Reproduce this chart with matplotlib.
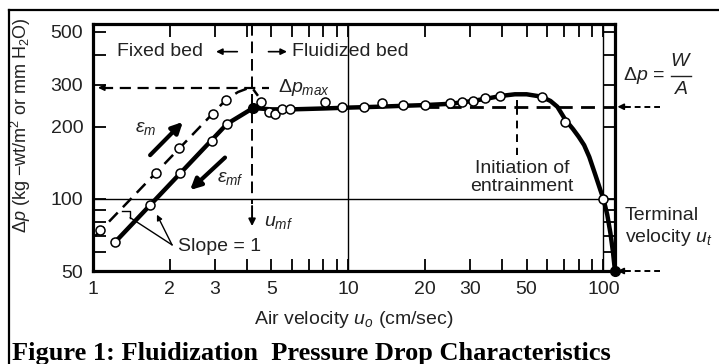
import matplotlib
matplotlib.use('Agg')
import matplotlib.pyplot as plt
from matplotlib.lines import Line2D

plt.rcParams['font.family'] = ['Liberation Sans', 'DejaVu Sans']
plt.rcParams['mathtext.fontset'] = 'custom'
plt.rcParams['mathtext.rm'] = 'Liberation Sans'
plt.rcParams['mathtext.it'] = 'Liberation Sans:italic'
plt.rcParams['mathtext.bf'] = 'Liberation Sans:bold'

# ---------------- data ----------------
# fixed bed, increasing velocity (loose packing, eps_m) - dashed
fixed_up_u = [1.065, 1.77, 2.17, 2.95, 3.32]
fixed_up_dp = [74, 128.6, 163, 226, 260]
fixed_up_line_u = [1.02, 3.32, 3.7, 4.0, 4.2, 4.43]
fixed_up_line_dp = [70, 260, 280, 289, 292, 270]
# fixed bed, decreasing velocity (eps_mf) - solid
fixed_down_u = [1.22, 1.67, 2.19, 2.93, 3.35]
fixed_down_dp = [66, 94.5, 128, 175, 206]
fixed_down_line_u = [1.22, 3.35, 4.24]
fixed_down_line_dp = [66, 206, 240]
knee_u = [4.24]
knee_dp = [240]
# fluidized bed measurements
fluid_u = [4.56, 4.90, 5.17, 5.51, 5.92, 8.12, 9.47, 11.5, 13.6, 16.4, 20.0,
           25.1, 28.0, 30.9, 34.5, 39.5, 57.6, 71.0, 100.0]
fluid_dp = [255, 231, 227, 238, 238, 255, 243, 243, 252, 248, 248,
            252, 255, 257, 265, 270, 268, 210, 100]
# smooth fitted curve through fluidized region
curve_u = [4.24, 5, 6, 8, 10, 13, 16, 20, 25, 30, 35, 40, 45, 50, 57, 62, 66,
           71, 76, 80, 84, 88, 93, 97, 100, 103.5, 106.5, 109, 111]
curve_dp = [240, 237, 237, 239, 241, 243, 245, 247, 250, 256, 263, 270, 274,
            274, 268, 257, 243, 214, 196, 182, 168, 150, 126, 110, 100, 86,
            72, 60, 50]
terminal_u = [111]
terminal_dp = [50]
dp_max = 292
dp_WA = 243
u_mf = 4.2
u_entrain = 45.9

x_ticks = [1, 2, 3, 4, 5, 6, 7, 8, 9, 10, 20, 30, 40, 50, 60, 70, 80, 90, 100]
x_labels = ['1', '2', '3', '', '5', '', '', '', '', '10', '20', '30', '', '50',
            '', '', '', '', '100']
y_ticks = [50, 60, 70, 80, 90, 100, 200, 300, 400, 500]
y_labels = ['50', '', '', '', '', '100', '200', '300', '', '500']

TXT = '#222222'
FS = 14
W, H = 719, 364


def fx(px):
    return px / W


def fy(py):
    return 1 - py / H


fig = plt.figure(figsize=(7.19, 3.64), dpi=100)
ax = fig.add_axes([fx(93), fy(271), (615-93)/W, (271-24)/H])
ax.set_xscale('log')
ax.set_yscale('log')
ax.set_xlim(1, 111)
ax.set_ylim(50, 539)
ax.set_xticks(x_ticks)
ax.set_xticklabels(x_labels)
ax.set_yticks(y_ticks)
ax.set_yticklabels(y_labels)
ax.minorticks_off()
ax.tick_params(which='both', direction='in', length=9, width=1.3, top=True,
               right=True, labelsize=FS, labelcolor=TXT, pad=7)
for s in ax.spines.values():
    s.set_linewidth(2.3)

# grid lines
for g in (10, 100):
    ax.axvline(g, color='black', lw=1.0, zorder=1)
ax.axhline(100, color='black', lw=1.0, zorder=1)

# fixed bed dashed
ax.plot(fixed_up_line_u, fixed_up_line_dp, color='black', lw=1.8,
        ls=(0, (5, 3)), zorder=3)
ax.plot(fixed_up_u, fixed_up_dp, 'o', mfc='white', mec='black', ms=6.5,
        mew=1.1, zorder=5)
# fixed bed solid
ax.plot(fixed_down_line_u, fixed_down_line_dp, color='black', lw=3.2, zorder=3,
        solid_joinstyle='round')
ax.plot(fixed_down_u, fixed_down_dp, 'o', mfc='white', mec='black', ms=6.5,
        mew=1.1, zorder=5)
ax.plot(knee_u, knee_dp, 'o', color='black', ms=7, zorder=6)

# fluidized curve
ax.plot(curve_u, curve_dp, color='black', lw=3.2, zorder=3, clip_on=False,
        solid_joinstyle='round')
ax.plot(fluid_u, fluid_dp, 'o', mfc='white', mec='black', ms=6.5, mew=1.1,
        zorder=5)
ax.plot(terminal_u, terminal_dp, 'o', color='black', ms=7, zorder=6,
        clip_on=False)

# W/A dashed line
ax.plot([20, 111], [dp_WA, dp_WA], color='black', lw=2.0, ls=(0, (5, 3)),
        zorder=2)
# delta p max dashed arrow line
ax.plot([1.08, 4.9], [dp_max, dp_max], color='black', lw=1.6, ls=(0, (5, 3)),
        zorder=2)
ax.annotate('', xy=(1.02, dp_max), xytext=(1.12, dp_max),
            arrowprops=dict(arrowstyle='-|>', color='black', lw=1.2,
                            mutation_scale=9))
# u_mf dashed vertical with arrow
ax.plot([u_mf, u_mf], [539, 95], color='black', lw=1.4, ls=(0, (6, 3)),
        zorder=2)
ax.annotate('', xy=(u_mf, 75), xytext=(u_mf, 96),
            arrowprops=dict(arrowstyle='-|>', color='black', lw=1.4,
                            mutation_scale=10))
ax.text(4.68, 80, r'$u_{mf}$', fontsize=FS, color=TXT, va='center')

# entrainment marker
ax.plot([u_entrain, u_entrain], [dp_WA, 258], color='black', lw=1.4, zorder=2)
ax.plot([u_entrain, u_entrain], [dp_WA, 152], color='black', lw=1.4,
        ls=(0, (4, 3)), zorder=2)
ax.text(48, 123, 'Initiation of\nentrainment', fontsize=FS, color=TXT,
        ha='center', va='center', linespacing=1.1)

# region labels
ax.text(1.24, 413, 'Fixed bed', fontsize=FS, color=TXT, va='center')
ax.annotate('', xy=(2.96, 413), xytext=(3.77, 413),
            arrowprops=dict(arrowstyle='-|>', color='black', lw=1.2,
                            mutation_scale=9))
ax.annotate('', xy=(5.9, 413), xytext=(4.75, 413),
            arrowprops=dict(arrowstyle='-|>', color='black', lw=1.2,
                            mutation_scale=9))
ax.text(6.0, 413, 'Fluidized bed', fontsize=FS, color=TXT, va='center')
ax.text(5.31, dp_max, r'$\Delta p_{max}$', fontsize=FS, color=TXT,
        va='center')

# eps arrows
ax.annotate('', xy=(2.25, 210), xytext=(1.674, 152.5),
            arrowprops=dict(arrowstyle='-|>', color='black', lw=3.0,
                            mutation_scale=16, shrinkA=0, shrinkB=0))
ax.text(1.46, 198, r'$\varepsilon_m$', fontsize=FS, color=TXT, va='center')
ax.annotate('', xy=(2.40, 109), xytext=(3.29, 149),
            arrowprops=dict(arrowstyle='-|>', color='black', lw=3.0,
                            mutation_scale=16, shrinkA=0, shrinkB=0))
ax.text(3.07, 122, r'$\varepsilon_{mf}$', fontsize=FS, color=TXT,
        va='center')

# slope = 1
ax.text(2.15, 63, 'Slope = 1', fontsize=FS, color=TXT, va='center')
ax.plot([2.04, 1.40], [64.3, 83.5], color='black', lw=1.0)
ax.annotate('', xy=(1.78, 86), xytext=(2.04, 64.3),
            arrowprops=dict(arrowstyle='-|>', color='black', lw=1.0,
                            mutation_scale=8, shrinkA=0, shrinkB=0))
ax.plot([1.30, 1.40, 1.40], [89, 89, 83.5], color='black', lw=1.0)

# outside labels: delta p = W / A
fig.text(fx(623), fy(76), r'$\Delta p$ =', fontsize=FS, color=TXT,
         va='center', ha='left')
fig.text(fx(681), fy(62), r'$W$', fontsize=FS, color=TXT, va='center',
         ha='center')
fig.text(fx(681), fy(90), r'$A$', fontsize=FS, color=TXT, va='center',
         ha='center')
fig.add_artist(Line2D([fx(671), fx(691)], [fy(76), fy(76)], color=TXT,
                      lw=1.0, transform=fig.transFigure))
fig.text(fx(625), fy(227), 'Terminal\nvelocity $u_t$', fontsize=FS,
         color=TXT, va='center', ha='left', linespacing=1.2)
for yy in (dp_WA, 50):
    ax.plot([122, 170], [yy, yy], color='black', lw=1.4, ls=(0, (3, 2)),
            clip_on=False)
    ax.annotate('', xy=(113.5, yy), xytext=(124, yy), annotation_clip=False,
                arrowprops=dict(arrowstyle='-|>', color='black', lw=1.2,
                                mutation_scale=9, shrinkA=0, shrinkB=0))

ax.set_xlabel(r'Air velocity $u_o$ (cm/sec)', fontsize=FS, color=TXT,
              labelpad=8)
ax.set_ylabel(r'$\Delta p$ (kg $-$wt/m$^2$ or mm H$_2$O)', fontsize=FS - 1,
              color=TXT)
ax.yaxis.set_label_coords((33 - 93) / 522, (271 - 125) / 247)

# frame around figure
fig.add_artist(Line2D([fx(9), fx(9)], [0, fy(10)], color='black', lw=1.6,
                      transform=fig.transFigure))
fig.add_artist(Line2D([fx(9), 1], [fy(10), fy(10)], color='black', lw=1.6,
                      transform=fig.transFigure))
fig.text(fx(12), fy(360),
         'Figure 1: Fluidization  Pressure Drop Characteristics',
         fontfamily='Liberation Serif', fontweight='bold', fontsize=19,
         va='baseline', ha='left', color='black')

fig.savefig('out.png', dpi=100)
